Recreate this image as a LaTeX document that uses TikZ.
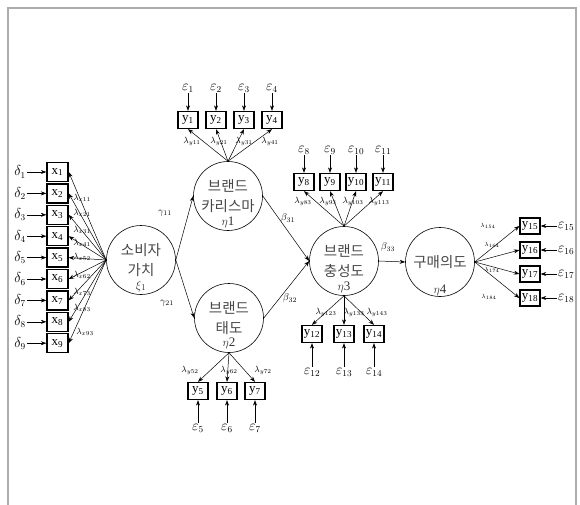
\documentclass[tikz,border=0pt]{standalone}
\usepackage{fontspec}
\setmainfont{Liberation Serif}
\newfontfamily\krfont{Noto Sans CJK KR}
\usetikzlibrary{arrows.meta}

\begin{document}
\begin{tikzpicture}[x=1pt,y=-1pt,
  latent/.style={circle,draw,line width=0.6pt,minimum size=69pt,inner sep=0pt,
    align=center,font=\krfont\fontsize{14.5}{20}\selectfont,text=black!72},
  obs/.style={draw,line width=1.3pt,minimum width=20pt,minimum height=17pt,
    inner sep=0pt,font=\fontsize{13}{13}\selectfont},
  errlbl/.style={inner sep=1pt,font=\fontsize{13.5}{13.5}\selectfont},
  coef/.style={inner sep=0pt,font=\fontsize{9}{9}\selectfont},
  etalbl/.style={inner sep=0pt,font=\fontsize{13}{13}\selectfont,text=black!80},
  link/.style={-{Stealth[length=5.5pt,width=4pt]},line width=0.5pt},
]
\useasboundingbox (0,0) rectangle (580,505);
% outer frame
\draw[gray!65,line width=1.5pt] (8,505) -- (8,8) -- (576,8) -- (576,505);

% latent variables
\node[latent] (xi)   at (141,260) {소비자\\가치};
\node[latent] (eta1) at (228,196) {브랜드\\카리스마};
\node[latent] (eta2) at (229,318) {브랜드\\태도};
\node[latent] (eta3) at (344,261) {브랜드\\충성도};
\node[latent] (eta4) at (440,262) {구매의도};

\node[etalbl] (xil)   at (141,286) {$\xi_1$};
\node[etalbl] (eta1l) at (228,222) {$\eta$1};
\node[etalbl] (eta2l) at (229,343) {$\eta$2};
\node[etalbl] (eta3l) at (344,287) {$\eta$3};
\node[etalbl] (eta4l) at (440,290) {$\eta$4};

% exogenous indicators x1..x9
\foreach \i in {1,...,9} {
  \node[obs,minimum width=21pt,minimum height=19pt] (x\i) at (57.5,{172+21.4*(\i-1)}) {x\textsubscript{\i}};
  \node[errlbl] (d\i) at (20,{172+21.4*(\i-1)}) {$\delta_{\i}$};
  \draw[link] (d\i) -- (x\i);
  \draw[link] (xi.west) -- (x\i.east);
}
\foreach \s/\px/\py in {11/82/198,21/82/213,31/82/230,41/82/243,52/82/257,62/82/275,73/82/292,83/82/308,93/85/332}
  \node[coef] (lx\s) at (\px,\py) {$\lambda_{x\s}$};

% charisma indicators y1..y4
\foreach \i/\px in {1/188,2/216,3/244,4/272} {
  \node[obs] (y\i) at (\px,120) {y\textsubscript{\i}};
  \node[errlbl] (e\i) at (\px,88) {$\varepsilon_{\i}$};
  \draw[link] (e\i) -- (y\i);
  \draw[link] (eta1.north) -- (y\i.south);
}
\foreach \s/\px in {11/192,21/219,31/244,41/270}
  \node[coef] (ly\s) at (\px,141) {$\lambda_{y\s}$};

% attitude indicators y5..y7
\foreach \i/\px in {5/198,6/227,7/255} {
  \node[obs] (y\i) at (\px,391) {y\textsubscript{\i}};
  \node[errlbl] (e\i) at (\px,428) {$\varepsilon_{\i}$};
  \draw[link] (e\i) -- (y\i);
  \draw[link] (eta2.south) -- (y\i.north);
}
\foreach \s/\px in {52/190,62/229,72/263}
  \node[coef] (ly\s) at (\px,370) {$\lambda_{y\s}$};

% loyalty indicators y8..y11
\foreach \i/\px in {8/304,9/330,10/356,11/383} {
  \node[obs] (y\i) at (\px,182) {y\textsubscript{\i}};
  \node[errlbl] (e\i) at (\px,150) {$\varepsilon_{\i}$};
  \draw[link] (e\i) -- (y\i);
  \draw[link] (eta3.north) -- (y\i.south);
}
\foreach \s/\px in {83/303,93/328,103/353,113/379}
  \node[coef] (ly\s) at (\px,201) {$\lambda_{y\s}$};

% loyalty indicators y12..y14
\foreach \i/\px in {12/312,13/344,14/374} {
  \node[obs] (y\i) at (\px,334) {y\textsubscript{\i}};
  \node[errlbl] (e\i) at (\px,372) {$\varepsilon_{\i}$};
  \draw[link] (e\i) -- (y\i);
  \draw[link] (eta3.south) -- (y\i.north);
}
\foreach \s/\px in {123/326,133/354,143/377}
  \node[coef] (ly\s) at (\px,312) {$\lambda_{y\s}$};

% purchase intention indicators y15..y18
\foreach \i/\py in {15/226,16/250,17/274,18/298} {
  \node[obs,minimum height=16pt] (y\i) at (530,\py) {y\textsubscript{\i}};
  \node[errlbl] (e\i) at (566,\py) {$\varepsilon_{\i}$};
  \draw[link] (e\i) -- (y\i);
  \draw[link] (eta4.east) -- (y\i.west);
}
\foreach \s/\px/\py in {154/488/226,164/492/245,174/492/270,184/489/297}
  \node[coef,font=\fontsize{6.5}{6.5}\selectfont] (ly\s) at (\px,\py) {$\lambda_{\s}$};

% structural paths
\draw[link] (xi.east) -- (eta1.west);
\draw[link] (xi.east) -- (eta2.west);
\draw[link] (eta1.east) -- (eta3.west);
\draw[link] (eta2.east) -- (eta3.west);
\draw[link] (eta3.east) -- (eta4.west);

\node[coef,font=\fontsize{10}{10}\selectfont] (g11) at (165,213) {$\gamma_{11}$};
\node[coef,font=\fontsize{10}{10}\selectfont] (g21) at (167,303) {$\gamma_{21}$};
\node[coef,font=\fontsize{10}{10}\selectfont] (b31) at (288,218) {$\beta_{31}$};
\node[coef,font=\fontsize{10}{10}\selectfont] (b32) at (290,298) {$\beta_{32}$};
\node[coef,font=\fontsize{10}{10}\selectfont] (b33) at (388,247) {$\beta_{33}$};
\end{tikzpicture}
\end{document}
